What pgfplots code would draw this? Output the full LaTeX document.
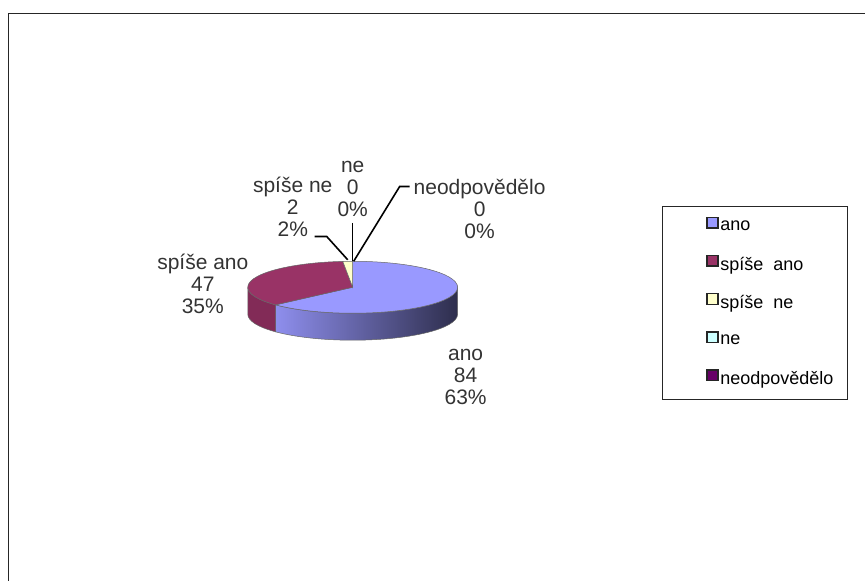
\documentclass[border=0pt]{standalone}
\usepackage{pgfplots}
\usepackage{pgfplotstable}
\pgfplotsset{compat=1.18}
\usepackage{fontspec}
\setmainfont{Liberation Sans}

\definecolor{cano}{HTML}{9999FF}
\definecolor{cspano}{HTML}{993366}
\definecolor{cspne}{HTML}{FFFFCC}
\definecolor{cne}{HTML}{CCFFFF}
\definecolor{cneod}{HTML}{660066}

% slices, clockwise from 12 o'clock; lx,ly = label centre
\pgfplotstableread[col sep=comma]{
name,value,color,lx,ly
ano,84,cano,466,204
spíše ano,47,cspano,203,297
spíše ne,2,cspne,293,374
ne,0,cne,353,392
neodpovědělo,0,cneod,480,372
}\piedata

\begin{document}
\begin{tikzpicture}
\begin{axis}[
  width=866pt, height=581pt, scale only axis,
  xmin=0, xmax=866, ymin=0, ymax=581,
  axis lines=none, ticks=none, clip=false,
  legend style={at={(axis cs:663,375)}, anchor=north west,
    draw=black!85, line width=1pt,
    font=\fontsize{18}{20}\selectfont,
    inner xsep=12.5pt, inner ysep=1pt, row sep=0pt,
    nodes={inner sep=1.5pt},
    /tikz/every even column/.append style={column sep=0pt}},
  legend cell align=left,
  legend image code/.code={
    \draw[#1, draw=black!85, line width=1.3pt] (1pt,-1.5pt) rectangle (12pt,9pt);
    \path (-30pt,-18.6pt) (12.5pt,18.6pt);},
]
\path (axis cs:0,0) (axis cs:866,581);

\pgfplotsextra{
  \coordinate (C) at (axis cs:353,293.5);
  % total
  \gdef\pietot{0}
  \foreach \i in {0,...,4}{%
    \pgfplotstablegetelem{\i}{value}\of\piedata
    \pgfmathsetmacro\pietmp{\pietot+\pgfplotsretval}\xdef\pietot{\pietmp}}
  % end angle of the first slice
  \pgfplotstablegetelem{0}{value}\of\piedata
  \pgfmathsetmacro\eA{90-360*(\pgfplotsretval/\pietot)}
  % side faces (front half only), ellipse radii 105pt x 26pt, depth 27pt
  \shadedraw[left color=cano!93!black, middle color=cano!75!black,
    right color=cano!30!black, draw=black!60, line width=0.5pt]
    (C) ++(\eA:105pt and 26pt) arc[start angle=\eA, end angle=0, x radius=105pt, y radius=26pt]
    -- ++(0pt,-27pt) arc[start angle=0, end angle=\eA, x radius=105pt, y radius=26pt] -- cycle;
  \filldraw[fill=cspano!85!black, draw=black!60, line width=0.5pt]
    (C) ++(-180:105pt and 26pt) arc[start angle=-180, end angle=\eA, x radius=105pt, y radius=26pt]
    -- ++(0pt,-27pt) arc[start angle=\eA, end angle=-180, x radius=105pt, y radius=26pt] -- cycle;
  % top faces and labels
  \gdef\pieang{90}
  \foreach \i in {0,...,4}{%
    \pgfplotstablegetelem{\i}{value}\of\piedata \let\sval\pgfplotsretval
    \pgfplotstablegetelem{\i}{color}\of\piedata \let\scol\pgfplotsretval
    \pgfplotstablegetelem{\i}{name}\of\piedata \let\sname\pgfplotsretval
    \pgfplotstablegetelem{\i}{lx}\of\piedata \let\slx\pgfplotsretval
    \pgfplotstablegetelem{\i}{ly}\of\piedata \let\sly\pgfplotsretval
    \pgfmathsetmacro\send{\pieang-360*(\sval/\pietot)}
    \pgfmathtruncatemacro\spct{round(100*(\sval/\pietot))}
    \pgfmathtruncatemacro\sint{\sval}
    \ifnum\sint>0
      \filldraw[fill=\scol, draw=black!60, line width=0.5pt]
        (C) -- ++(\pieang:105pt and 26pt) arc[start angle=\pieang, end angle=\send, x radius=105pt, y radius=26pt] -- cycle;
    \fi
    \node[align=center, font=\fontsize{21}{22}\selectfont, text=black!80]
      at (axis cs:\slx,\sly) {\sname\\\sint\\\spct\%};
    \xdef\pieang{\send}}
}

% leader lines
\draw[line width=1.6pt] (axis cs:315,344.3) -- (axis cs:327,344.3) -- (axis cs:348,321);
\draw[line width=1.6pt] (axis cs:353,358) -- (axis cs:353,319.5);
\draw[line width=1.6pt] (axis cs:410,394.3) -- (axis cs:400,394.3) -- (axis cs:354,319.5);

% chart area border (only top and left visible)
\draw[line width=1.5pt, black!85] (axis cs:8.5,0) -- (axis cs:8.5,567.5) -- (axis cs:866,567.5);

\addlegendimage{fill=cano}\addlegendentry{ano}
\addlegendimage{fill=cspano}\addlegendentry{spíše\ \ ano}
\addlegendimage{fill=cspne}\addlegendentry{spíše\ \ ne}
\addlegendimage{fill=cne}\addlegendentry{ne}
\addlegendimage{fill=cneod}\addlegendentry{neodpovědělo}
\end{axis}
\end{tikzpicture}
\end{document}
